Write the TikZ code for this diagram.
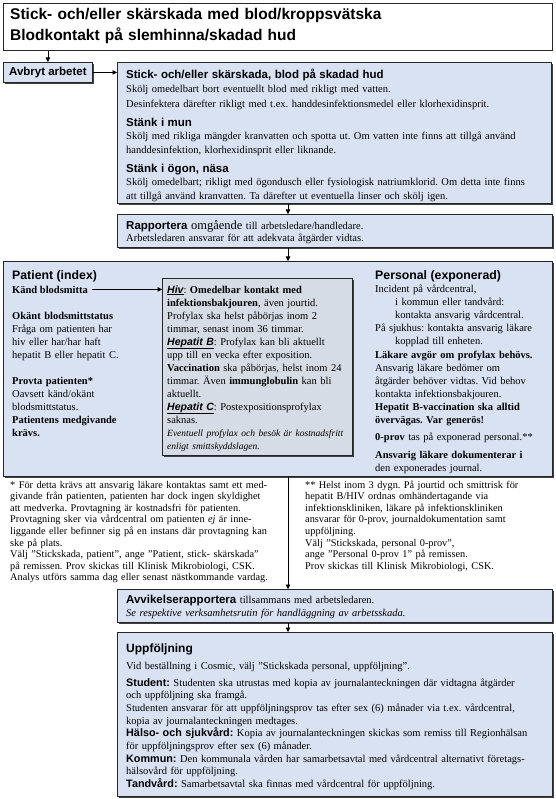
\documentclass[tikz,border=0pt]{standalone}
\usepackage{fontspec}
\setmainfont{Liberation Serif}
\newfontfamily\hdfam{Liberation Sans}
\usetikzlibrary{arrows.meta,shadows}
\definecolor{boxblue}{HTML}{D9E2F3}
\definecolor{innergray}{HTML}{D6DCE5}
\newcommand\bodyf{\fontsize{10.5}{13}\selectfont}
\newcommand\headf{\hdfam\bfseries\fontsize{11.5}{13}\selectfont}
\newcommand\bigheadf{\hdfam\bfseries\fontsize{12.3}{14}\selectfont}
\newcommand\subheadf{\hdfam\bfseries\fontsize{10.8}{13}\selectfont}
\newcommand\hlink[1]{\underline{\hdfam\bfseries\itshape #1}}
\frenchspacing
\begin{document}
\begin{tikzpicture}[x=1pt,y=-1pt,
  boxbase/.style={rectangle, anchor=north west, inner sep=0pt, draw=black!85, line width=0.8pt},
  bluebox/.style={boxbase, fill=boxblue, drop shadow={shadow xshift=1.3pt, shadow yshift=-1.3pt, fill=black!75, opacity=1}},
  lbl/.style={anchor=base west, inner sep=0pt, align=left, font=\bodyf},
  arr/.style={-{Triangle[length=4.5pt,width=4.5pt]}, line width=0.6pt, black},
]
\useasboundingbox (0,0) rectangle (555,799);

% boxes
\node[boxbase, fill=white, line width=1.2pt, minimum width=549pt, minimum height=47pt] (title) at (3,3) {};
\node[bluebox, minimum width=89pt, minimum height=20pt, font=\headf] (avbryt) at (3,62) {Avbryt arbetet};
\node[bluebox, minimum width=434pt, minimum height=141pt] (box1) at (117,62) {};
\node[bluebox, minimum width=435pt, minimum height=33pt] (rapp) at (117,214) {};
\node[bluebox, minimum width=549pt, minimum height=215pt] (mid) at (3,261) {};
\node[bluebox, fill=innergray, minimum width=190pt, minimum height=177pt] (inner) at (162,278) {};
\node[bluebox, minimum width=435pt, minimum height=33pt] (avv) at (117,589) {};
\node[bluebox, minimum width=435pt, minimum height=164pt] (upp) at (117,632) {};

% title text
\node[lbl, font=\hdfam\bfseries\fontsize{15.5}{21}\selectfont, text width=530pt] (ttitle) at (10,20)
 {Stick- och/eller skärskada med blod/kroppsvätska\\Blodkontakt på slemhinna/skadad hud};

% box 1 text
\node[lbl, font=\fontsize{10.5}{13.5}\selectfont, text width=425pt] (tb1) at (126,79) {%
{\headf Stick- och/eller skärskada, blod på skadad hud}\\
Skölj omedelbart bort eventuellt blod med rikligt med vatten.\\[1.5pt]
Desinfektera därefter rikligt med t.ex. handdesinfektionsmedel eller klorhexidinsprit.\\[5.5pt]
{\headf Stänk i mun}\\
Skölj med rikliga mängder kranvatten och spotta ut. Om vatten inte finns att tillgå använd\\
handdesinfektion, klorhexidinsprit eller liknande.\\[5.5pt]
{\headf Stänk i ögon, näsa}\\
Skölj omedelbart; rikligt med ögondusch eller fysiologisk natriumklorid. Om detta inte finns\\
att tillgå använd kranvatten. Ta därefter ut eventuella linser och skölj igen.};

% rapportera
\node[lbl, font=\fontsize{10.5}{12}\selectfont, text width=425pt] (trapp) at (126,230) {%
{\headf Rapportera} {\fontsize{12.5}{12}\selectfont omgående} till arbetsledare/handledare.\\
Arbetsledaren ansvarar för att adekvata åtgärder vidtas.};

% patient
\node[lbl, font=\bigheadf] (tpat) at (12,279) {Patient (index)};
\node[lbl, font=\bodyf\bfseries] (tkand) at (12,293) {Känd blodsmitta};
\node[lbl, text width=148pt] (tpat2) at (12,319) {%
\textbf{Okänt blodsmittstatus}\\
Fråga om patienten har\\
hiv eller har/har haft\\
hepatit B eller hepatit C.\\[13pt]
\textbf{Provta patienten*}\\
Oavsett känd/okänt\\
blodsmittstatus.\\
\textbf{Patientens medgivande}\\
\textbf{krävs.}};

% inner box text
\node[lbl, text width=188pt] (tinner) at (167,293) {%
\hlink{Hiv}: \textbf{Omedelbar kontakt med}\\
\textbf{infektionsbakjouren}, även jourtid.\\
Profylax ska helst påbörjas inom 2\\
timmar, senast inom 36 timmar.\\
\hlink{Hepatit B}: Profylax kan bli aktuellt\\
upp till en vecka efter exposition.\\
\textbf{Vaccination} ska påbörjas, helst inom 24\\
timmar. Även \textbf{immunglobulin} kan bli\\
aktuellt.\\
\hlink{Hepatit C}: Postexpositionsprofylax\\
saknas.\\[0.5pt]
{\itshape\fontsize{9.5}{12.5}\selectfont Eventuell profylax och besök är kostnadsfritt\\
enligt smittskyddslagen.}};

% personal
\node[lbl, font=\bigheadf] (tpers) at (375,279) {Personal (exponerad)};
\node[lbl, text width=178pt] (tpers2) at (375,292) {%
Incident på vårdcentral,\\
\hspace*{20pt}i kommun eller tandvård:\\
\hspace*{20pt}kontakta ansvarig vårdcentral.\\
På sjukhus: kontakta ansvarig läkare\\
\hspace*{20pt}kopplad till enheten.\\[1.5pt]
\textbf{Läkare avgör om profylax behövs.}\\
Ansvarig läkare bedömer om\\
åtgärder behöver vidtas. Vid behov\\
kontakta infektionsbakjouren.\\
\textbf{Hepatit B-vaccination ska alltid}\\
\textbf{övervägas. Var generös!}\\[3.5pt]
\textbf{0-prov} tas på exponerad personal.**\\[5pt]
\textbf{Ansvarig läkare dokumenterar i}\\
den exponerades journal.};

% footnotes
\node[lbl, font=\fontsize{10.3}{11.6}\selectfont, text width=275pt] (fn1) at (10,488) {%
* För detta krävs att ansvarig läkare kontaktas samt ett med-\\
givande från patienten, patienten har dock ingen skyldighet\\
att medverka. Provtagning är kostnadsfri för patienten.\\
Provtagning sker via vårdcentral om patienten \textit{ej} är inne-\\
liggande eller befinner sig på en instans där provtagning kan\\
ske på plats.\\
Välj ”Stickskada, patient”, ange ”Patient, stick- skärskada”\\
på remissen. Prov skickas till Klinisk Mikrobiologi, CSK.\\
Analys utförs samma dag eller senast nästkommande vardag.};
\node[lbl, font=\fontsize{10.3}{11.6}\selectfont, text width=245pt] (fn2) at (305,488) {%
** Helst inom 3 dygn. På jourtid och smittrisk för\\
hepatit B/HIV ordnas omhändertagande via\\
infektionskliniken, läkare på infektionskliniken\\
ansvarar för 0-prov, journaldokumentation samt\\
uppföljning.\\
Välj ”Stickskada, personal 0-prov”,\\
ange ”Personal 0-prov 1” på remissen.\\
Prov skickas till Klinisk Mikrobiologi, CSK.};

% avvikelse
\node[lbl, font=\fontsize{10.5}{13}\selectfont, text width=425pt] (tavv) at (126,603) {%
{\headf Avvikelserapportera} tillsammans med arbetsledaren.\\
\textit{Se respektive verksamhetsrutin för handläggning av arbetsskada.}};

% uppfoljning
\node[lbl, font=\fontsize{10.5}{12.7}\selectfont, text width=425pt] (tupp) at (126,652) {%
{\hdfam\bfseries\fontsize{12}{13}\selectfont Uppföljning}\\[4.3pt]
Vid beställning i Cosmic, välj ”Stickskada personal, uppföljning”.\\[4.3pt]
{\subheadf Student:} Studenten ska utrustas med kopia av journalanteckningen där vidtagna åtgärder\\
och uppföljning ska framgå.\\
Studenten ansvarar för att uppföljningsprov tas efter sex (6) månader via t.ex. vårdcentral,\\
kopia av journalanteckningen medtages.\\
{\subheadf Hälso- och sjukvård:} Kopia av journalanteckningen skickas som remiss till Regionhälsan\\
för uppföljningsprov efter sex (6) månader.\\
{\subheadf Kommun:} Den kommunala vården har samarbetsavtal med vårdcentral alternativt företags-\\
hälsovård för uppföljning.\\
{\subheadf Tandvård:} Samarbetsavtal ska finnas med vårdcentral för uppföljning.};

% connectors
\coordinate (ax) at (288,0);
\draw[arr] (title.south -| avbryt.north) -- (avbryt.north);
\draw[arr] (avbryt.east) -- (avbryt.east -| box1.west);
\draw[arr] (box1.south -| ax) -- (rapp.north -| ax);
\draw[arr] (rapp.south -| ax) -- (mid.north -| ax);
\draw[arr] ([xshift=4pt]tkand.east) -- (tkand.east -| inner.west);
\draw[arr] (mid.south -| ax) -- (avv.north -| ax);
\draw[arr] (avv.south -| ax) -- (upp.north -| ax);
\end{tikzpicture}
\end{document}
